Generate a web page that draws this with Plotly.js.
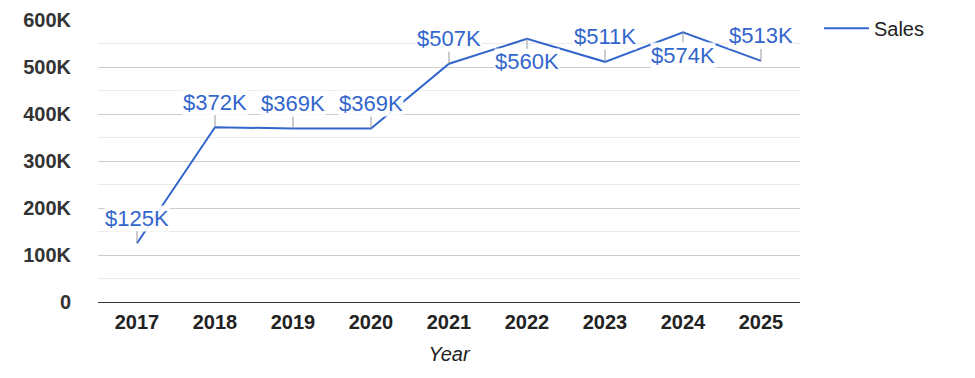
<!DOCTYPE html>
<html>
<head>
<meta charset="utf-8">
<script src="https://cdn.plot.ly/plotly-3.0.1.min.js"></script>
<style>html,body{margin:0;padding:0;background:#fff;}#chart{width:975px;height:378px;}</style>
</head>
<body>
<div id="chart"></div>
<script>
const years = ['2017','2018','2019','2020','2021','2022','2023','2024','2025'];
const sales = [125000, 372000, 369000, 369000, 507000, 560000, 511000, 574000, 513000];
const yTickVals = [0, 100000, 200000, 300000, 400000, 500000, 600000];
const yTickText = ['0', '100K', '200K', '300K', '400K', '500K', '600K'];
const seriesName = 'Sales';

const FONT = 'Arial, "Liberation Sans", sans-serif';
const BLUE = '#3366cc';
const belowIdx = new Set([5, 7]);

const annotations = years.map((yr, i) => ({
  x: i, y: sales[i], xref: 'x', yref: 'y',
  text: '$' + Math.round(sales[i] / 1000) + 'K',
  showarrow: true, arrowhead: 0, arrowwidth: 1, arrowcolor: '#999',
  ax: 0, ay: belowIdx.has(i) ? 23 : -25, standoff: 0,
  bgcolor: 'rgba(255,255,255,0.9)', borderpad: 0,
  font: {family: FONT, size: 22, color: BLUE}
}));

const trace = {
  x: years, y: sales, type: 'scatter', mode: 'lines', name: seriesName,
  line: {color: BLUE, width: 2}
};

const layout = {
  width: 975, height: 378,
  margin: {l: 98, r: 175, t: 20, b: 76, autoexpand: false},
  paper_bgcolor: '#fff', plot_bgcolor: '#fff',
  font: {family: FONT, color: '#222'},
  showlegend: true,
  legend: {x: 1.027, y: 1.04, xanchor: 'left', yanchor: 'top', itemwidth: 45,
           font: {family: FONT, size: 20, color: '#222'}, bgcolor: 'rgba(0,0,0,0)'},
  xaxis: {
    type: 'category', range: [-0.5, 8.5], fixedrange: true,
    showgrid: false, showline: true, linecolor: '#333', linewidth: 1,
    ticks: 'outside', ticklen: 2, tickcolor: 'rgba(0,0,0,0)',
    tickfont: {family: FONT, size: 20, color: '#222', weight: 'bold'},
    title: {text: 'Year', standoff: 14, font: {family: FONT, size: 20, color: '#222', style: 'italic'}}
  },
  yaxis: {
    range: [0, 600000], fixedrange: true,
    tickvals: yTickVals, ticktext: yTickText,
    showgrid: true, gridcolor: '#cccccc', gridwidth: 1,
    zeroline: false,
    minor: {dtick: 50000, showgrid: true, gridcolor: '#ebebeb', gridwidth: 1},
    ticks: 'outside', ticklen: 22, tickcolor: 'rgba(0,0,0,0)',
    tickfont: {family: FONT, size: 20, color: '#333', weight: 'bold'}
  },
  annotations: annotations
};

Plotly.newPlot('chart', [trace], layout, {displayModeBar: false, staticPlot: true});
</script>
</body>
</html>
